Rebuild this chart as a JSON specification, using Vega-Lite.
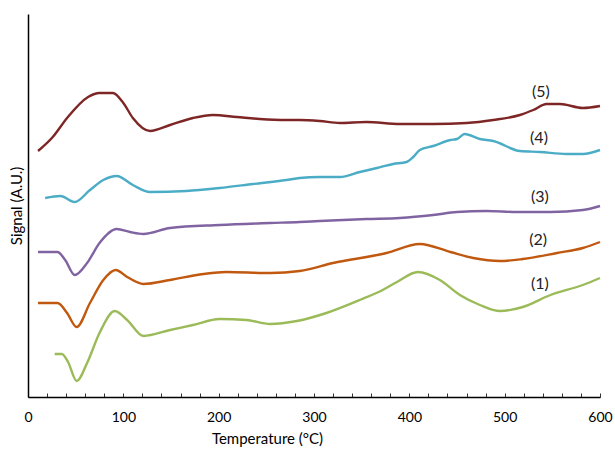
{
  "$schema": "https://vega.github.io/schema/vega-lite/v6.json",
  "width": 572,
  "height": 383,
  "autosize": {"type": "none"},
  "padding": {"left": 28, "top": 14, "right": 15, "bottom": 52},
  "background": "white",
  "config": {"view": {"stroke": null}, "font": "Lato"},
  "datasets": {
    "curves": [
      {"s": "5", "t": 10.5, "v": 246}, {"s": "5", "t": 26, "v": 260}, {"s": "5", "t": 41, "v": 279}, {"s": "5", "t": 63, "v": 300}, {"s": "5", "t": 75, "v": 304}, {"s": "5", "t": 89, "v": 304}, {"s": "5", "t": 100, "v": 294}, {"s": "5", "t": 110, "v": 279}, {"s": "5", "t": 128, "v": 266}, {"s": "5", "t": 149, "v": 272}, {"s": "5", "t": 173, "v": 279}, {"s": "5", "t": 194, "v": 282}, {"s": "5", "t": 219, "v": 280}, {"s": "5", "t": 243, "v": 278}, {"s": "5", "t": 271, "v": 277}, {"s": "5", "t": 285, "v": 277}, {"s": "5", "t": 306, "v": 276}, {"s": "5", "t": 327, "v": 274}, {"s": "5", "t": 355, "v": 275}, {"s": "5", "t": 390, "v": 273}, {"s": "5", "t": 425, "v": 273}, {"s": "5", "t": 460, "v": 274}, {"s": "5", "t": 488, "v": 277}, {"s": "5", "t": 516, "v": 282}, {"s": "5", "t": 530, "v": 287}, {"s": "5", "t": 544, "v": 293}, {"s": "5", "t": 558, "v": 293}, {"s": "5", "t": 582, "v": 289}, {"s": "5", "t": 600, "v": 291},
      {"s": "4", "t": 18, "v": 199}, {"s": "4", "t": 34, "v": 201}, {"s": "4", "t": 49, "v": 195}, {"s": "4", "t": 65, "v": 207}, {"s": "4", "t": 79, "v": 217}, {"s": "4", "t": 93, "v": 221}, {"s": "4", "t": 110, "v": 212}, {"s": "4", "t": 128, "v": 205}, {"s": "4", "t": 166, "v": 206}, {"s": "4", "t": 201, "v": 209}, {"s": "4", "t": 236, "v": 213}, {"s": "4", "t": 271, "v": 217}, {"s": "4", "t": 285, "v": 219}, {"s": "4", "t": 306, "v": 220}, {"s": "4", "t": 327, "v": 220}, {"s": "4", "t": 348, "v": 225}, {"s": "4", "t": 366, "v": 229}, {"s": "4", "t": 383, "v": 233}, {"s": "4", "t": 397, "v": 235}, {"s": "4", "t": 404, "v": 240}, {"s": "4", "t": 411, "v": 247}, {"s": "4", "t": 425, "v": 251}, {"s": "4", "t": 443, "v": 257}, {"s": "4", "t": 450, "v": 258}, {"s": "4", "t": 458, "v": 263}, {"s": "4", "t": 474, "v": 258}, {"s": "4", "t": 488, "v": 256}, {"s": "4", "t": 516, "v": 246}, {"s": "4", "t": 537, "v": 245}, {"s": "4", "t": 565, "v": 243}, {"s": "4", "t": 582, "v": 243}, {"s": "4", "t": 600, "v": 247},
      {"s": "3", "t": 10.5, "v": 145}, {"s": "3", "t": 31, "v": 145}, {"s": "3", "t": 39, "v": 137}, {"s": "3", "t": 49, "v": 122}, {"s": "3", "t": 62, "v": 134}, {"s": "3", "t": 75, "v": 154}, {"s": "3", "t": 93, "v": 168}, {"s": "3", "t": 107, "v": 165}, {"s": "3", "t": 121, "v": 163}, {"s": "3", "t": 149, "v": 169}, {"s": "3", "t": 201, "v": 172}, {"s": "3", "t": 254, "v": 174}, {"s": "3", "t": 285, "v": 175}, {"s": "3", "t": 306, "v": 176}, {"s": "3", "t": 355, "v": 178}, {"s": "3", "t": 390, "v": 179}, {"s": "3", "t": 425, "v": 182}, {"s": "3", "t": 450, "v": 185}, {"s": "3", "t": 481, "v": 186}, {"s": "3", "t": 513, "v": 185}, {"s": "3", "t": 548, "v": 185}, {"s": "3", "t": 582, "v": 187}, {"s": "3", "t": 600, "v": 191},
      {"s": "2", "t": 10.5, "v": 94}, {"s": "2", "t": 31, "v": 94}, {"s": "2", "t": 41, "v": 84}, {"s": "2", "t": 51, "v": 70}, {"s": "2", "t": 65, "v": 94}, {"s": "2", "t": 79, "v": 117}, {"s": "2", "t": 92, "v": 127}, {"s": "2", "t": 104, "v": 120}, {"s": "2", "t": 121, "v": 113}, {"s": "2", "t": 149, "v": 117}, {"s": "2", "t": 184, "v": 123}, {"s": "2", "t": 208, "v": 125}, {"s": "2", "t": 254, "v": 124}, {"s": "2", "t": 285, "v": 126}, {"s": "2", "t": 320, "v": 134}, {"s": "2", "t": 376, "v": 144}, {"s": "2", "t": 411, "v": 153}, {"s": "2", "t": 443, "v": 145}, {"s": "2", "t": 467, "v": 139}, {"s": "2", "t": 495, "v": 136}, {"s": "2", "t": 519, "v": 138}, {"s": "2", "t": 555, "v": 144}, {"s": "2", "t": 582, "v": 149}, {"s": "2", "t": 600, "v": 155},
      {"s": "1", "t": 28, "v": 43}, {"s": "1", "t": 35.5, "v": 43}, {"s": "1", "t": 42, "v": 35}, {"s": "1", "t": 51, "v": 16}, {"s": "1", "t": 62, "v": 34}, {"s": "1", "t": 75, "v": 64}, {"s": "1", "t": 91, "v": 86}, {"s": "1", "t": 104, "v": 77}, {"s": "1", "t": 121, "v": 61}, {"s": "1", "t": 149, "v": 67}, {"s": "1", "t": 173, "v": 72}, {"s": "1", "t": 201, "v": 78}, {"s": "1", "t": 229, "v": 77}, {"s": "1", "t": 254, "v": 73}, {"s": "1", "t": 282, "v": 76}, {"s": "1", "t": 313, "v": 84}, {"s": "1", "t": 348, "v": 97}, {"s": "1", "t": 372, "v": 107}, {"s": "1", "t": 387, "v": 115}, {"s": "1", "t": 409, "v": 125}, {"s": "1", "t": 432, "v": 117}, {"s": "1", "t": 453, "v": 102}, {"s": "1", "t": 474, "v": 92}, {"s": "1", "t": 495, "v": 86}, {"s": "1", "t": 519, "v": 90}, {"s": "1", "t": 548, "v": 102}, {"s": "1", "t": 582, "v": 112}, {"s": "1", "t": 600, "v": 119}
    ],
    "labels": [
      {"s": "5", "t": 538, "v": 305, "label": "(5)"},
      {"s": "4", "t": 536, "v": 259, "label": "(4)"},
      {"s": "3", "t": 537, "v": 200, "label": "(3)"},
      {"s": "2", "t": 535, "v": 157, "label": "(2)"},
      {"s": "1", "t": 537, "v": 113, "label": "(1)"}
    ]
  },
  "layer": [
    {
      "data": {"name": "curves"},
      "mark": {"type": "line", "strokeWidth": 2.4, "interpolate": "monotone"},
      "encoding": {
        "x": {
          "field": "t", "type": "quantitative",
          "scale": {"domain": [0, 600], "nice": false},
          "axis": {
            "title": "Temperature (°C)",
            "titleX": 239,
            "titleAlign": "center",
            "values": [0, 20, 40, 60, 80, 100, 120, 140, 160, 180, 200, 220, 240, 260, 280, 300, 320, 340, 360, 380, 400, 420, 440, 460, 480, 500, 520, 540, 560, 580, 600],
            "tickCount": 40,
            "labelExpr": "datum.value % 100 === 0 ? datum.label : ''",
            "labelOverlap": false,
            "grid": false,
            "domainColor": "black",
            "domainWidth": 1.5,
            "tickColor": "#333",
            "tickWidth": 1,
            "tickSize": -4,
            "labelPadding": 17,
            "labelFontSize": 14,
            "labelColor": "black",
            "labelFont": "Lato",
            "titleFontSize": 15,
            "titleFontWeight": "normal",
            "titleColor": "black",
            "titleFont": "Lato",
            "titlePadding": 7,
            "labelFlush": false
          }
        },
        "y": {
          "field": "v", "type": "quantitative",
          "scale": {"domain": [0, 383], "nice": false},
          "axis": {
            "title": "Signal (A.U.)",
            "labels": false,
            "ticks": false,
            "grid": false,
            "domainColor": "black",
            "domainWidth": 1.5,
            "titleFontSize": 15,
            "titleFontWeight": "normal",
            "titleColor": "black",
            "titleFont": "Lato",
            "titlePadding": 4
          }
        },
        "color": {
          "field": "s", "type": "nominal",
          "scale": {"domain": ["1", "2", "3", "4", "5"], "range": ["#9BBB59", "#C0590F", "#8064A2", "#4BACC6", "#7E2626"]},
          "legend": null
        },
        "detail": {"field": "s"}
      }
    },
    {
      "data": {"name": "labels"},
      "mark": {"type": "text", "fontSize": 16, "color": "#222", "font": "Lato", "align": "center", "baseline": "middle"},
      "encoding": {
        "x": {"field": "t", "type": "quantitative"},
        "y": {"field": "v", "type": "quantitative"},
        "text": {"field": "label"}
      }
    }
  ]
}
